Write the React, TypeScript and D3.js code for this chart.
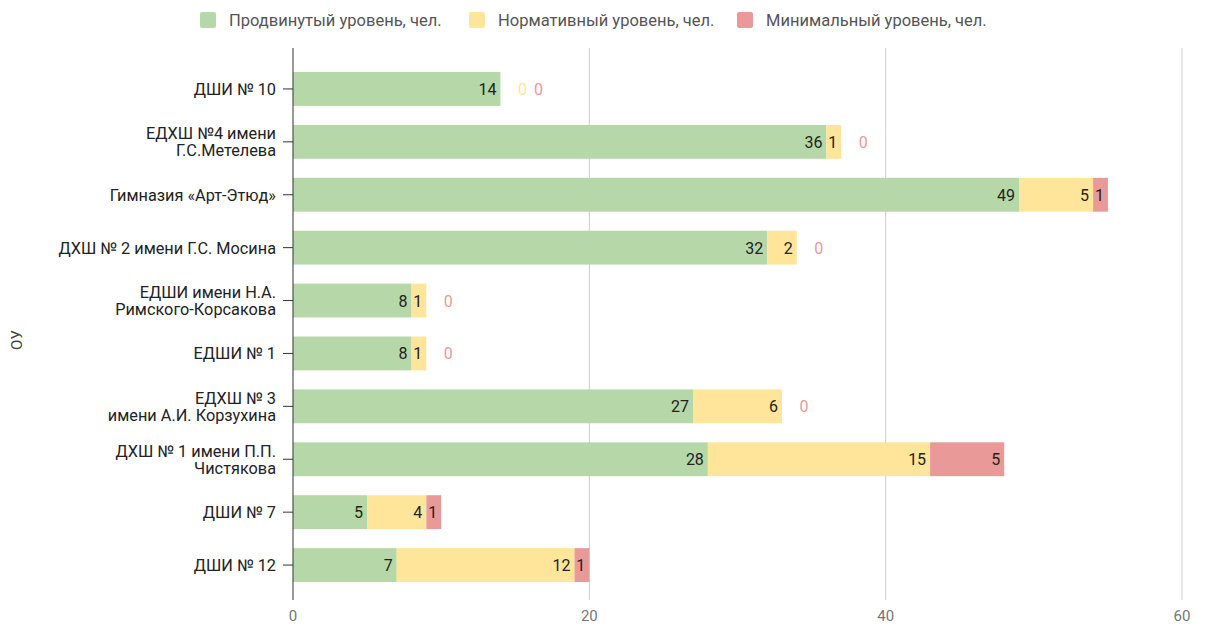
import React from 'react';
import * as d3 from 'd3';

const schools = [
  'ДШИ № 10',
  'ЕДХШ №4 имени\nГ.С.Метелева',
  'Гимназия «Арт-Этюд»',
  'ДХШ № 2 имени Г.С. Мосина',
  'ЕДШИ имени Н.А.\nРимского-Корсакова',
  'ЕДШИ № 1',
  'ЕДХШ № 3\nимени А.И. Корзухина',
  'ДХШ № 1 имени П.П.\nЧистякова',
  'ДШИ № 7',
  'ДШИ № 12',
];
const advanced = [14, 36, 49, 32, 8, 8, 27, 28, 5, 7];
const normative = [0, 1, 5, 2, 1, 1, 6, 15, 4, 12];
const minimal = [0, 0, 1, 0, 0, 0, 0, 5, 1, 1];
const seriesNames = ['Продвинутый уровень, чел.', 'Нормативный уровень, чел.', 'Минимальный уровень, чел.'];
const seriesColors = ['#b6d7a8', '#ffe599', '#ea9999'];
const xTicks = [0, 20, 40, 60];

const W = 1207;
const H = 626;
const margin = { top: 62.5, right: 25, bottom: 34.5, left: 293 };
const FONT = 'Roboto, Arial, sans-serif';

export default function App() {
  const x = d3.scaleLinear().domain([0, 60]).range([margin.left, W - margin.right]);
  const y = d3
    .scaleBand<number>()
    .domain(d3.range(schools.length))
    .range([margin.top, H - margin.bottom])
    .paddingInner(0.36)
    .paddingOuter(0.18);

  const rows = schools.map((name, i) => ({ name, vals: [advanced[i], normative[i], minimal[i]] }));
  const stack = d3.stack<any>().keys(['0', '1', '2']).value((d, k) => d.vals[+k]);
  const layers = stack(rows);

  const legendX = [200, 469, 737];

  return (
    <div style={{ position: 'absolute', left: 0, top: 0 }}>
      <svg width={W} height={H} style={{ display: 'block', fontFamily: FONT }}>
        <rect width={W} height={H} fill="#fff" />
        {/* legend */}
        {seriesNames.map((s, i) => (
          <g key={s} transform={`translate(${legendX[i]},12)`}>
            <rect width={16} height={16} rx={2} fill={seriesColors[i]} />
            <text x={29} y={13.5} fontSize={16.5} fill="#555">{s}</text>
          </g>
        ))}
        {/* grid */}
        {xTicks.filter((t) => t > 0).map((t) => (
          <line key={t} x1={x(t)} x2={x(t)} y1={48} y2={600} stroke="#cccccc" strokeWidth={1} />
        ))}
        {xTicks.map((t) => (
          <text key={t} x={x(t)} y={621} textAnchor="middle" fontSize={15} fill="#757575">{t}</text>
        ))}
        {/* bars */}
        {layers.map((layer, si) =>
          layer.map((d, i) => {
            const v = rows[i].vals[si];
            if (v === 0) return null;
            return (
              <rect key={`${si}-${i}`} x={x(d[0])} y={y(i)} width={x(d[1]) - x(d[0])} height={y.bandwidth()} fill={seriesColors[si]} />
            );
          })
        )}
        {/* labels */}
        {rows.map((r, i) => {
          const cy = (y(i) as number) + y.bandwidth() / 2;
          let zeroCount = 0;
          const total = d3.sum(r.vals);
          return r.vals.map((v, si) => {
            const d = layers[si][i];
            if (v === 0) {
              const lx = x(total) + 22 + zeroCount * 16;
              zeroCount++;
              return (
                <text key={`l${si}-${i}`} x={lx} y={cy + 6} textAnchor="middle" fontSize={16} fill={seriesColors[si]}>0</text>
              );
            }
            return (
              <text key={`l${si}-${i}`} x={x(d[1]) - 4} y={cy + 6} textAnchor="end" fontSize={16} fill="#222">{v}</text>
            );
          });
        })}
        {/* y axis */}
        <line x1={margin.left} x2={margin.left} y1={48} y2={600} stroke="#333" strokeWidth={1} />
        {schools.map((s, i) => {
          const cy = (y(i) as number) + y.bandwidth() / 2;
          const lines = s.split('\n');
          return (
            <g key={s}>
              <line x1={margin.left - 10} x2={margin.left} y1={cy} y2={cy} stroke="#333" />
              {lines.map((ln, j) => (
                <text key={j} x={276} y={cy + 6 + (j - (lines.length - 1) / 2) * 17} textAnchor="end" fontSize={16.3} fill="#222">{ln}</text>
              ))}
            </g>
          );
        })}
        <text transform="translate(22,340) rotate(-90)" textAnchor="middle" fontSize={15} fill="#444">ОУ</text>
      </svg>
    </div>
  );
}
